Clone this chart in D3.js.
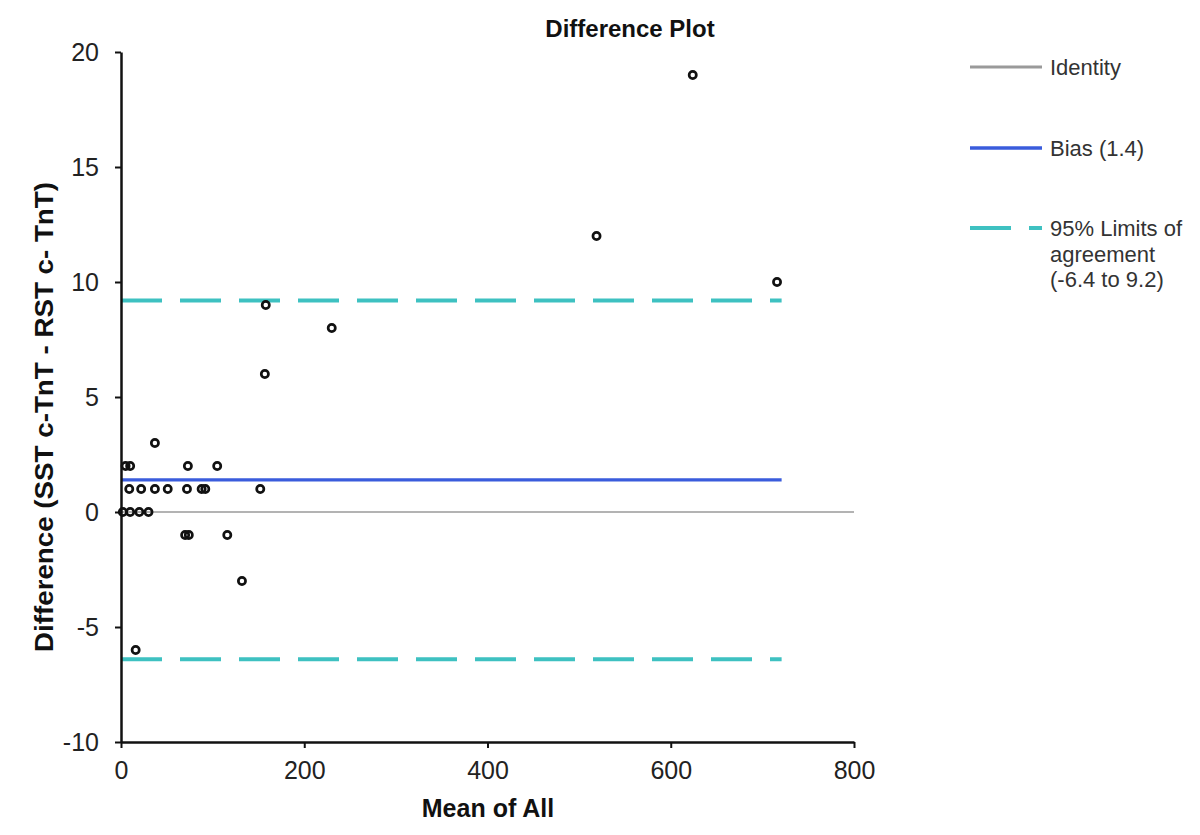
<!DOCTYPE html>
<html><head><meta charset="utf-8">
<script src="https://cdn.jsdelivr.net/npm/d3@7"></script>
<style>body{margin:0;background:#fff;} text{font-family:"Liberation Sans",Arial,sans-serif;}</style>
</head><body>
<svg id="chart" width="1200" height="835"></svg>
<script>
// Data
const meanValues = [5, 10, 73, 105, 37, 9, 22, 37, 51, 72, 88, 92, 152, 2, 10, 20, 30, 70, 74, 116, 132, 16, 157, 158, 230, 519, 624, 716];
const diffValues = [2, 2, 2, 2, 3, 1, 1, 1, 1, 1, 1, 1, 1, 0, 0, 0, 0, -1, -1, -1, -3, -6, 6, 9, 8, 12, 19, 10];
const bias = 1.4;
const loaLower = -6.4;
const loaUpper = 9.2;
const lineExtent = [0, 721];
const xTicks = [0, 200, 400, 600, 800];
const yTicks = [-10, -5, 0, 5, 10, 15, 20];
const legendLabels = ["Identity", "Bias (1.4)", ["95% Limits of", "agreement", "(-6.4 to 9.2)"]];

const svg = d3.select("#chart");
const x = d3.scaleLinear().domain([0, 800]).range([121, 854]);
const y = d3.scaleLinear().domain([-10, 20]).range([742, 52]);

const teal = "#3ec1c1", blue = "#3a5cdc", gray = "#9a9a9a";

// identity line
svg.append("line").attr("x1", x(0)).attr("x2", x(800)).attr("y1", y(0)).attr("y2", y(0))
  .attr("stroke", gray).attr("stroke-width", 1.6);

// limits of agreement
[loaUpper, loaLower].forEach(v => {
  svg.append("line").attr("x1", x(lineExtent[0])).attr("x2", x(lineExtent[1]))
    .attr("y1", y(v)).attr("y2", y(v))
    .attr("stroke", teal).attr("stroke-width", 4).attr("stroke-dasharray", "41,18");
});
// bias
svg.append("line").attr("x1", x(lineExtent[0])).attr("x2", x(lineExtent[1]))
  .attr("y1", y(bias)).attr("y2", y(bias))
  .attr("stroke", blue).attr("stroke-width", 3.2);

// axes
const fmt = d => String(d);
const xAxis = svg.append("g").attr("transform", `translate(0,${y(-10)})`)
  .call(d3.axisBottom(x).tickValues(xTicks).tickFormat(fmt).tickSize(6).tickPadding(13).tickSizeOuter(0));
const yAxis = svg.append("g").attr("transform", `translate(${x(0)},0)`)
  .call(d3.axisLeft(y).tickValues(yTicks).tickFormat(fmt).tickSize(6).tickPadding(16).tickSizeOuter(0));
[xAxis, yAxis].forEach(g => {
  g.select(".domain").attr("stroke", "#111").attr("stroke-width", 2.5);
  g.selectAll(".tick line").attr("stroke", "#111").attr("stroke-width", 2);
  g.selectAll(".tick text").attr("font-size", 25).attr("fill", "#222")
    .style("font-family", '"Liberation Sans",Arial,sans-serif');
});

// points
svg.append("g").selectAll("circle").data(meanValues.map((m, i) => [m, diffValues[i]]))
  .join("circle").attr("cx", d => x(d[0])).attr("cy", d => y(d[1])).attr("r", 3.6)
  .attr("fill", "none").attr("stroke", "#111").attr("stroke-width", 2.7);

// titles
svg.append("text").attr("x", 630).attr("y", 37).attr("text-anchor", "middle")
  .attr("font-size", 24).attr("font-weight", "bold").attr("fill", "#111").text("Difference Plot");
svg.append("text").attr("x", 488).attr("y", 817).attr("text-anchor", "middle")
  .attr("font-size", 25).attr("font-weight", "bold").attr("fill", "#111").text("Mean of All");
svg.append("text").attr("transform", "translate(53,417) rotate(-90)").attr("text-anchor", "middle")
  .attr("font-size", 26).attr("font-weight", "bold").attr("fill", "#111")
  .attr("textLength", 470).attr("lengthAdjust", "spacingAndGlyphs")
  .text("Difference (SST c-TnT - RST c- TnT)");

// legend
const lg = svg.append("g");
lg.append("line").attr("x1", 970).attr("x2", 1042).attr("y1", 67).attr("y2", 67)
  .attr("stroke", gray).attr("stroke-width", 3.2);
lg.append("text").attr("x", 1050).attr("y", 75).attr("font-size", 22).attr("fill", "#333").text(legendLabels[0]);
lg.append("line").attr("x1", 970).attr("x2", 1042).attr("y1", 148).attr("y2", 148)
  .attr("stroke", blue).attr("stroke-width", 3.6);
lg.append("text").attr("x", 1050).attr("y", 156).attr("font-size", 22).attr("fill", "#333").text(legendLabels[1]);
lg.append("line").attr("x1", 970).attr("x2", 1042).attr("y1", 228).attr("y2", 228)
  .attr("stroke", teal).attr("stroke-width", 4).attr("stroke-dasharray", "41,18");
legendLabels[2].forEach((t, i) => {
  lg.append("text").attr("x", 1050).attr("y", 236 + i * 25.5).attr("font-size", 22).attr("fill", "#333").text(t);
});
</script>
</body></html>
